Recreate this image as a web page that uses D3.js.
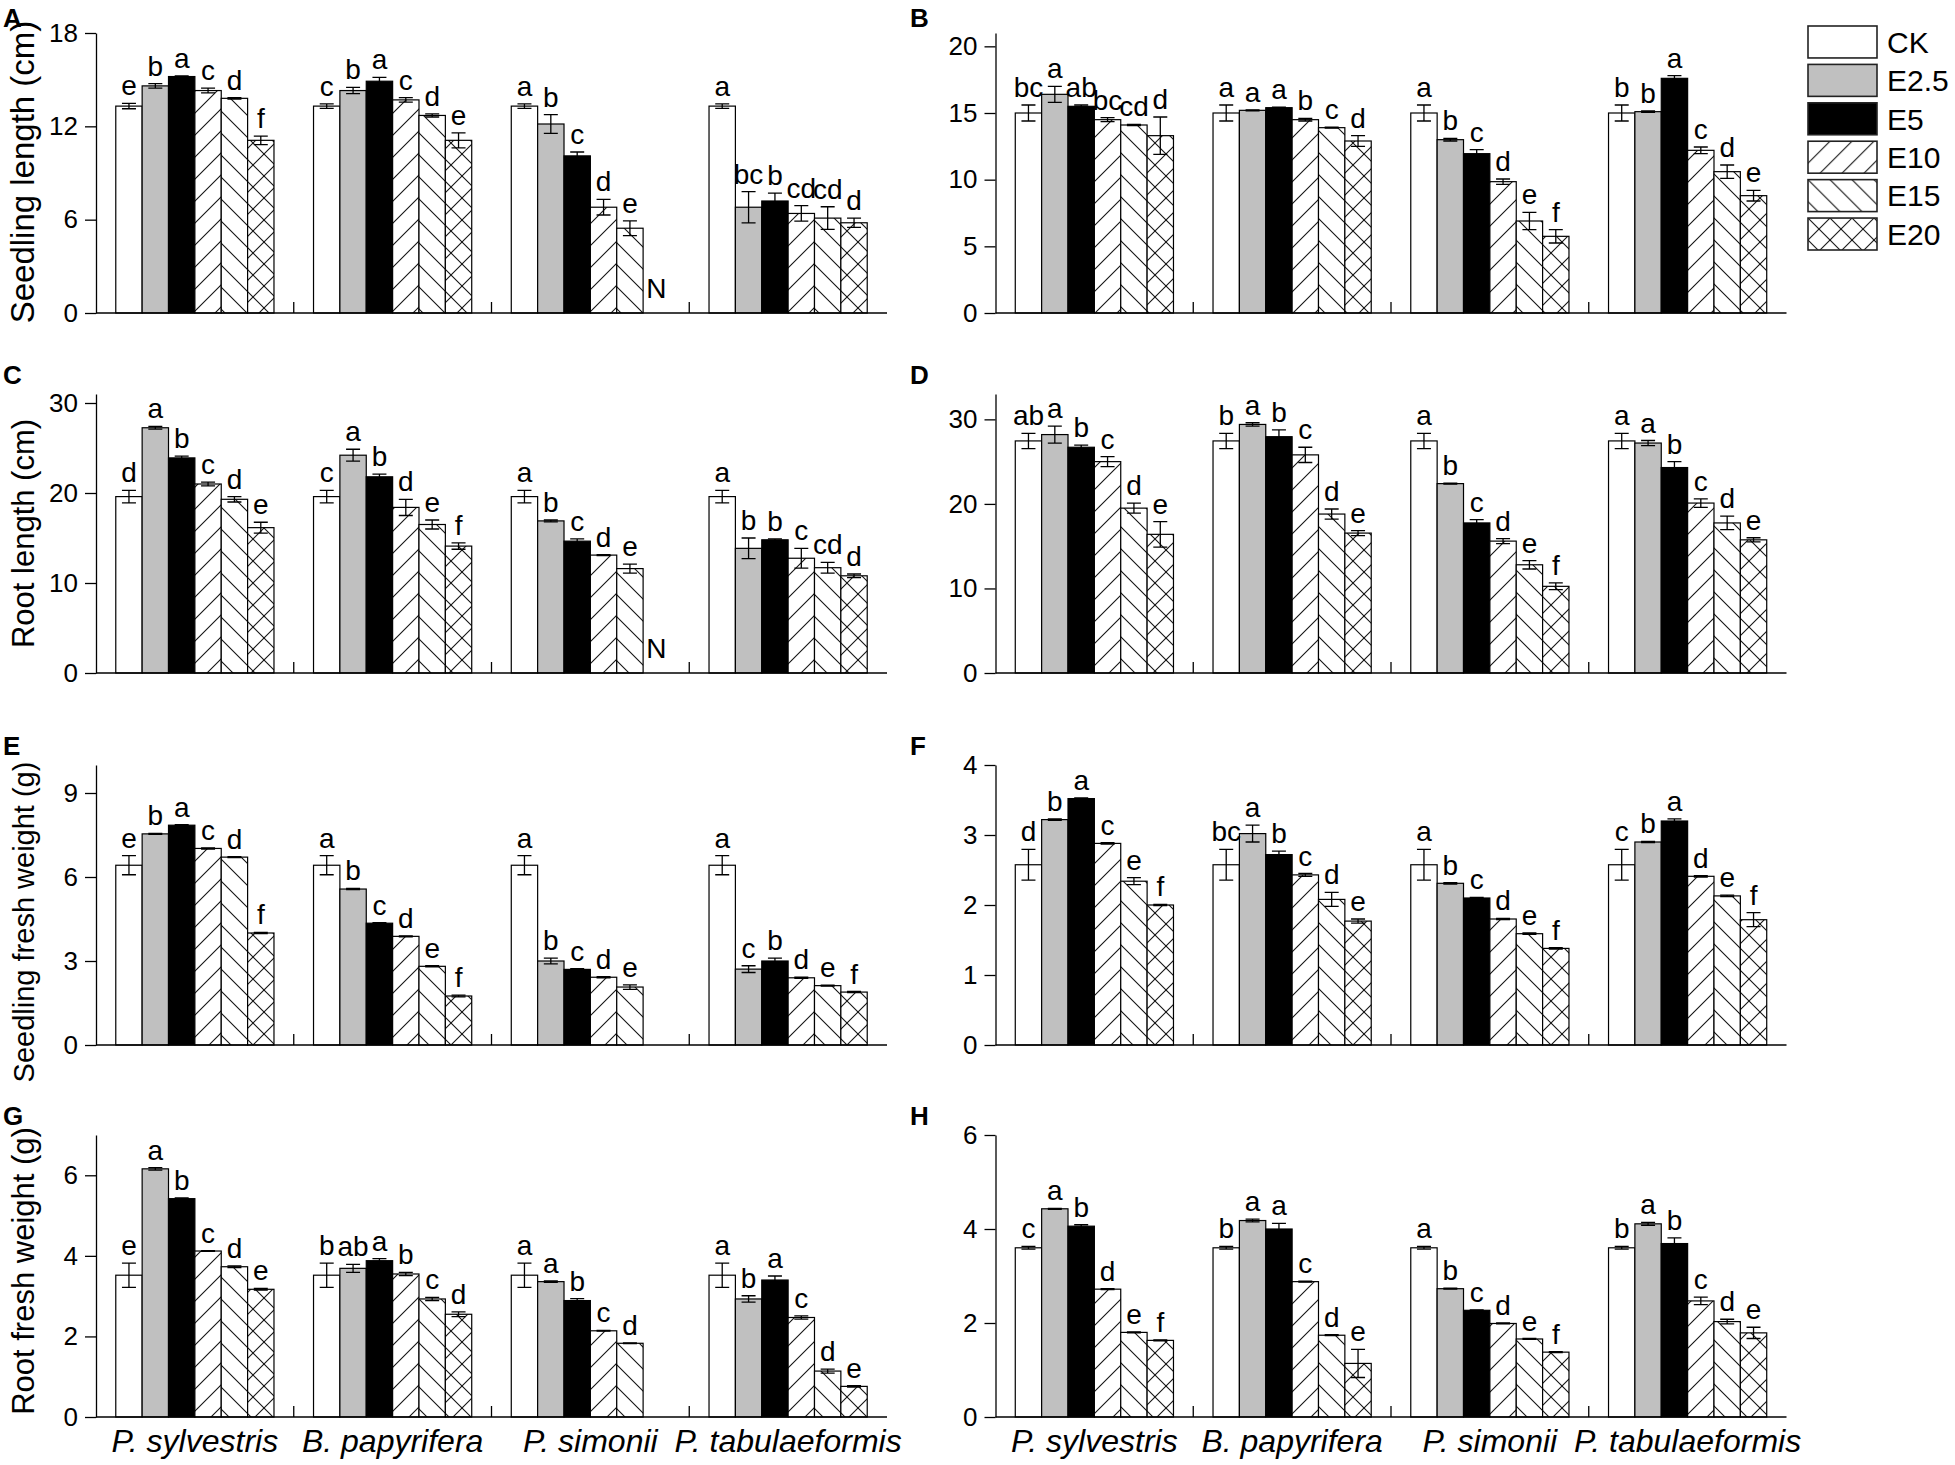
<!DOCTYPE html>
<html>
<head>
<meta charset="utf-8">
<script src="https://cdn.jsdelivr.net/npm/d3@7"></script>
<style>
  body { margin: 0; background: #fff; }
  svg { font-family: Arial, "Liberation Sans", sans-serif; }
</style>
</head>
<body>
<div id="chart"></div>
<script>
// species on the x axis and the six treatments
const species = ["P. sylvestris", "B. papyrifera", "P. simonii", "P. tabulaeformis"];
const treatments = ["CK", "E2.5", "E5", "E10", "E15", "E20"];

// A: seedling length (cm)
const aMean = [[13.3, 14.6, 15.2, 14.3, 13.8, 11.1], [13.3, 14.3, 14.9, 13.7, 12.7, 11.1], [13.3, 12.15, 10.1, 6.8, 5.45, null], [13.3, 6.8, 7.2, 6.4, 6.1, 5.8]];
const aErr = [[0.17, 0.15, 0.05, 0.15, 0.05, 0.27], [0.15, 0.2, 0.25, 0.15, 0.1, 0.48], [0.15, 0.6, 0.25, 0.5, 0.47, null], [0.15, 1.0, 0.5, 0.5, 0.73, 0.3]];
const aSig = [["e", "b", "a", "c", "d", "f"], ["c", "b", "a", "c", "d", "e"], ["a", "b", "c", "d", "e", "N"], ["a", "bc", "b", "cd", "cd", "d"]];
const aTicks = [0, 6, 12, 18];

// B: seedling length (cm)
const bMean = [[15.0, 16.4, 15.5, 14.5, 14.1, 13.3], [15.0, 15.2, 15.4, 14.5, 13.9, 12.9], [15.0, 13.0, 11.95, 9.85, 6.9, 5.75], [15.0, 15.1, 17.6, 12.2, 10.6, 8.8]];
const bErr = [[0.6, 0.6, 0.1, 0.15, 0.05, 1.4], [0.6, 0.03, 0.03, 0.1, 0.03, 0.4], [0.6, 0.1, 0.3, 0.2, 0.65, 0.5], [0.6, 0.05, 0.2, 0.25, 0.5, 0.4]];
const bSig = [["bc", "a", "ab", "bc", "cd", "d"], ["a", "a", "a", "b", "c", "d"], ["a", "b", "c", "d", "e", "f"], ["b", "b", "a", "c", "d", "e"]];
const bTicks = [0, 5, 10, 15, 20];

// C: root length (cm)
const cMean = [[19.6, 27.25, 23.9, 21.0, 19.3, 16.15], [19.6, 24.2, 21.8, 18.4, 16.5, 14.1], [19.6, 16.9, 14.65, 13.1, 11.6, null], [19.6, 13.85, 14.8, 12.75, 11.7, 10.8]];
const cErr = [[0.7, 0.15, 0.2, 0.2, 0.3, 0.6], [0.7, 0.66, 0.3, 0.9, 0.5, 0.35], [0.7, 0.1, 0.25, 0.05, 0.5, null], [0.7, 1.15, 0.1, 1.1, 0.6, 0.2]];
const cSig = [["d", "a", "b", "c", "d", "e"], ["c", "a", "b", "d", "e", "f"], ["a", "b", "c", "d", "e", "N"], ["a", "b", "b", "c", "cd", "d"]];
const cTicks = [0, 10, 20, 30];

// D: root length (cm)
const dMean = [[27.45, 28.2, 26.7, 25.0, 19.5, 16.4], [27.45, 29.4, 27.95, 25.8, 18.8, 16.55], [27.45, 22.4, 17.75, 15.6, 12.8, 10.25], [27.45, 27.2, 24.3, 20.1, 17.75, 15.75]];
const dErr = [[0.9, 1.0, 0.25, 0.6, 0.6, 1.5], [0.9, 0.2, 0.8, 0.9, 0.6, 0.3], [0.9, 0.05, 0.4, 0.3, 0.5, 0.4], [0.9, 0.3, 0.7, 0.5, 0.8, 0.25]];
const dSig = [["ab", "a", "b", "c", "d", "e"], ["b", "a", "b", "c", "d", "e"], ["a", "b", "c", "d", "e", "f"], ["a", "a", "b", "c", "d", "e"]];
const dTicks = [0, 10, 20, 30];

// E: seedling fresh weight (g)
const eMean = [[6.42, 7.54, 7.85, 7.02, 6.71, 4.0], [6.42, 5.57, 4.35, 3.88, 2.81, 1.75], [6.42, 3.0, 2.7, 2.42, 2.07, null], [6.42, 2.71, 3.0, 2.4, 2.12, 1.89]];
const eErr = [[0.34, 0.02, 0.02, 0.02, 0.02, 0.02], [0.34, 0.02, 0.02, 0.02, 0.02, 0.03], [0.34, 0.1, 0.03, 0.02, 0.08, null], [0.34, 0.12, 0.1, 0.02, 0.02, 0.02]];
const eSig = [["e", "b", "a", "c", "d", "f"], ["a", "b", "c", "d", "e", "f"], ["a", "b", "c", "d", "e", ""], ["a", "c", "b", "d", "e", "f"]];
const eTicks = [0, 3, 6, 9];

// F: seedling fresh weight (g)
const fMean = [[2.575, 3.22, 3.52, 2.88, 2.34, 2.0], [2.575, 3.02, 2.72, 2.43, 2.08, 1.77], [2.575, 2.31, 2.1, 1.8, 1.59, 1.38], [2.575, 2.9, 3.2, 2.41, 2.13, 1.79]];
const fErr = [[0.22, 0.01, 0.01, 0.01, 0.05, 0.01], [0.22, 0.12, 0.05, 0.02, 0.1, 0.03], [0.22, 0.01, 0.01, 0.01, 0.01, 0.01], [0.22, 0.01, 0.03, 0.01, 0.01, 0.1]];
const fSig = [["d", "b", "a", "c", "e", "f"], ["bc", "a", "b", "c", "d", "e"], ["a", "b", "c", "d", "e", "f"], ["c", "b", "a", "d", "e", "f"]];
const fTicks = [0, 1, 2, 3, 4];

// G: root fresh weight (g)
const gMean = [[3.52, 6.16, 5.42, 4.12, 3.73, 3.17], [3.52, 3.69, 3.88, 3.55, 2.93, 2.55], [3.52, 3.36, 2.89, 2.14, 1.83, null], [3.52, 2.93, 3.4, 2.47, 1.14, 0.76]];
const gErr = [[0.3, 0.03, 0.02, 0.01, 0.02, 0.02], [0.3, 0.1, 0.05, 0.04, 0.04, 0.06], [0.3, 0.02, 0.05, 0.01, 0.01, null], [0.3, 0.08, 0.1, 0.04, 0.05, 0.02]];
const gSig = [["e", "a", "b", "c", "d", "e"], ["b", "ab", "a", "b", "c", "d"], ["a", "a", "b", "c", "d", ""], ["a", "b", "a", "c", "d", "e"]];
const gTicks = [0, 2, 4, 6];

// H: root fresh weight (g)
const hMean = [[3.6, 4.43, 4.06, 2.72, 1.8, 1.63], [3.6, 4.18, 4.0, 2.88, 1.74, 1.14], [3.6, 2.73, 2.27, 1.99, 1.66, 1.38], [3.6, 4.11, 3.69, 2.47, 2.03, 1.79]];
const hErr = [[0.03, 0.01, 0.03, 0.01, 0.01, 0.01], [0.03, 0.03, 0.12, 0.01, 0.01, 0.3], [0.03, 0.01, 0.01, 0.01, 0.01, 0.01], [0.03, 0.03, 0.12, 0.08, 0.05, 0.12]];
const hSig = [["c", "a", "b", "d", "e", "f"], ["b", "a", "a", "c", "d", "e"], ["a", "b", "c", "d", "e", "f"], ["b", "a", "b", "c", "d", "e"]];
const hTicks = [0, 2, 4, 6];

const panels = [
  { id: "A", mean: aMean, err: aErr, sig: aSig, ticks: aTicks, max: 18, col: 0, row: 0, title: "Seedling length (cm)", titleSize: 33, titleShift: -1 },
  { id: "B", mean: bMean, err: bErr, sig: bSig, ticks: bTicks, max: 21, col: 1, row: 0 },
  { id: "C", mean: cMean, err: cErr, sig: cSig, ticks: cTicks, max: 31, col: 0, row: 1, title: "Root length (cm)", titleSize: 31, titleShift: 0 },
  { id: "D", mean: dMean, err: dErr, sig: dSig, ticks: dTicks, max: 33, col: 1, row: 1 },
  { id: "E", mean: eMean, err: eErr, sig: eSig, ticks: eTicks, max: 10, col: 0, row: 2, title: "Seedling fresh weight (g)", titleSize: 29, titleShift: 17 },
  { id: "F", mean: fMean, err: fErr, sig: fSig, ticks: fTicks, max: 4, col: 1, row: 2 },
  { id: "G", mean: gMean, err: gErr, sig: gSig, ticks: gTicks, max: 7, col: 0, row: 3, title: "Root fresh weight (g)", titleSize: 31, titleShift: -5 },
  { id: "H", mean: hMean, err: hErr, sig: hSig, ticks: hTicks, max: 6, col: 1, row: 3 }
];

// page layout
const W = 1955, H = 1465;
const rowTop = [33, 394, 765, 1135];
const rowZero = [313, 673, 1045, 1417];
const colRange = [[96, 887], [995.5, 1786.5]];

const svg = d3.select("#chart").append("svg")
  .attr("width", W)
  .attr("height", H);

// hatch patterns for E10 / E15 / E20
const defs = svg.append("defs");
function addHatch(id, lines) {
  const p = defs.append("pattern")
    .attr("id", id)
    .attr("patternUnits", "userSpaceOnUse")
    .attr("width", 22)
    .attr("height", 22);
  p.append("rect").attr("width", 22).attr("height", 22).attr("fill", "#fff");
  lines.forEach(d => p.append("path").attr("d", d)
    .attr("stroke", "#111").attr("stroke-width", 1.1).attr("fill", "none"));
}
const fwd = ["M0,22L22,0", "M-11,11L11,-11", "M11,33L33,11"];
const back = ["M0,0L22,22", "M-11,11L11,33", "M11,-11L33,11"];
addHatch("h10", fwd);
addHatch("h15", back);
addHatch("h20", fwd.concat(back));

const fill = d3.scaleOrdinal()
  .domain(treatments)
  .range(["#fff", "#c0c0c0", "#000", "url(#h10)", "url(#h15)", "url(#h20)"]);

panels.forEach(p => {
  const g = svg.append("g");
  const x0 = d3.scaleBand().domain(species).range(colRange[p.col])
    .paddingInner(0.2).paddingOuter(0.1);
  const x1 = d3.scaleBand().domain(treatments).range([0, x0.bandwidth()]);
  const y = d3.scaleLinear().domain([0, p.max]).range([rowZero[p.row], rowTop[p.row]]);

  const rows = species.flatMap((s, i) => treatments.map((t, j) => ({
    s: s, t: t, v: p.mean[i][j], e: p.err[i][j], sig: p.sig[i][j]
  })));
  const cx = d => x0(d.s) + x1(d.t) + x1.bandwidth() / 2;

  // bars
  g.selectAll("rect.bar")
    .data(rows.filter(d => d.v != null))
    .enter().append("rect")
    .attr("class", "bar")
    .attr("x", d => x0(d.s) + x1(d.t))
    .attr("y", d => y(d.v))
    .attr("width", x1.bandwidth())
    .attr("height", d => y(0) - y(d.v))
    .attr("fill", d => fill(d.t))
    .attr("stroke", "#000")
    .attr("stroke-width", 1.2);

  // error bars
  const cap = 7;
  g.selectAll("path.err")
    .data(rows.filter(d => d.v != null))
    .enter().append("path")
    .attr("class", "err")
    .attr("d", d => {
      const x = cx(d), y1 = y(d.v + d.e), y2 = y(d.v - d.e);
      return `M${x - cap},${y1}H${x + cap}M${x},${y1}V${y2}M${x - cap},${y2}H${x + cap}`;
    })
    .attr("stroke", "#000")
    .attr("stroke-width", 1.3)
    .attr("fill", "none");

  // significance letters
  g.selectAll("text.sig")
    .data(rows.filter(d => d.sig))
    .enter().append("text")
    .attr("class", "sig")
    .attr("x", cx)
    .attr("y", d => d.v == null ? y(0) - 15 : y(d.v + d.e) - 8)
    .attr("text-anchor", "middle")
    .style("font-size", "28px")
    .text(d => d.sig);

  // y axis
  const yAxis = g.append("g")
    .attr("transform", `translate(${colRange[p.col][0]},0)`)
    .call(d3.axisLeft(y).tickValues(p.ticks).tickFormat(d3.format("d"))
      .tickSize(11).tickSizeOuter(0).tickPadding(7));
  yAxis.selectAll("text").style("font-size", "26px").attr("fill", "#000");
  yAxis.selectAll("line, path").attr("stroke", "#000").attr("stroke-width", 1.3);

  // x axis line and the small marks between species groups
  const xr = colRange[p.col];
  g.append("line")
    .attr("x1", xr[0]).attr("x2", xr[1])
    .attr("y1", y(0)).attr("y2", y(0))
    .attr("stroke", "#000").attr("stroke-width", 1.3);
  g.selectAll("line.sep")
    .data(species.slice(1))
    .enter().append("line")
    .attr("class", "sep")
    .attr("x1", d => x0(d) - x0.step() * 0.1)
    .attr("x2", d => x0(d) - x0.step() * 0.1)
    .attr("y1", y(0)).attr("y2", y(0) - 11)
    .attr("stroke", "#000").attr("stroke-width", 1.3);

  // species names under the bottom row
  if (p.row === 3) {
    const xAxis = g.append("g")
      .attr("transform", `translate(0,${y(0)})`)
      .call(d3.axisBottom(x0).tickSize(0).tickPadding(12));
    xAxis.select(".domain").remove();
    xAxis.selectAll("text")
      .style("font-size", "32px")
      .style("font-style", "italic")
      .attr("fill", "#000");
  }

  // panel letter
  g.append("text")
    .attr("x", p.col === 0 ? 3 : 910)
    .attr("y", p.row === 0 ? 27 : rowTop[p.row] - 10)
    .style("font-size", "26px")
    .style("font-weight", "bold")
    .text(p.id);

  // y title, left column only
  if (p.title) {
    const yc = (rowTop[p.row] + rowZero[p.row]) / 2 + p.titleShift;
    g.append("text")
      .attr("transform", `translate(34,${yc}) rotate(-90)`)
      .attr("text-anchor", "middle")
      .style("font-size", p.titleSize + "px")
      .text(p.title);
  }
});

// legend
const ly = d3.scaleBand().domain(treatments).range([26, 250]).paddingInner(0.168);
const legend = svg.append("g").selectAll("g")
  .data(treatments)
  .enter().append("g")
  .attr("transform", d => `translate(1808,${ly(d)})`);
legend.append("rect")
  .attr("width", 69)
  .attr("height", ly.bandwidth())
  .attr("fill", d => fill(d))
  .attr("stroke", "#222")
  .attr("stroke-width", 1.6);
legend.append("text")
  .attr("x", 79)
  .attr("y", ly.bandwidth() / 2)
  .attr("dy", "0.36em")
  .style("font-size", "30px")
  .text(d => d);
</script>
</body>
</html>
